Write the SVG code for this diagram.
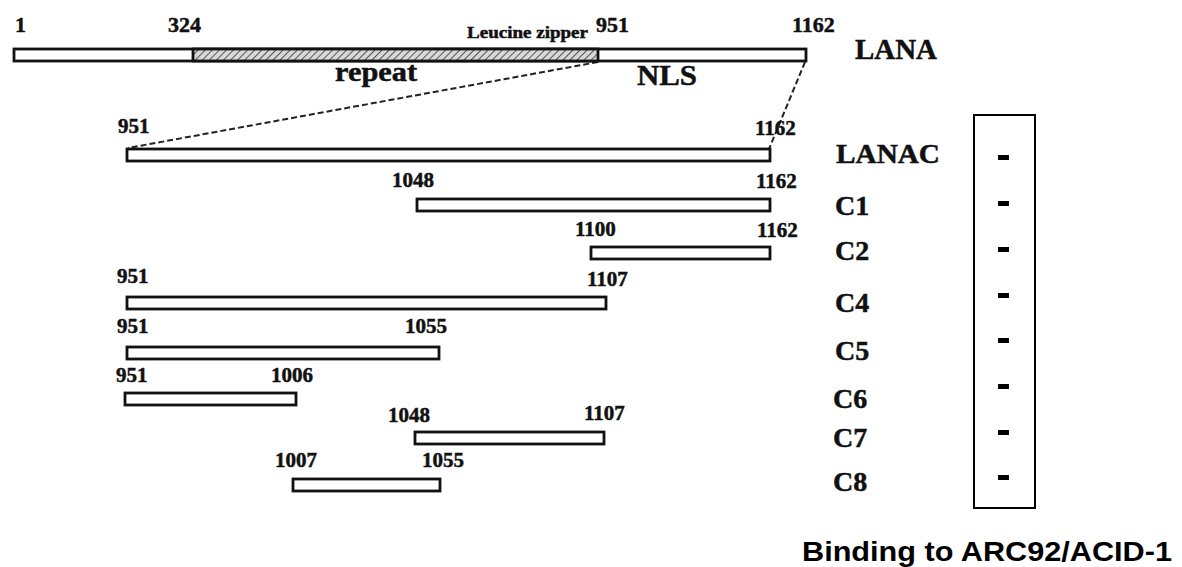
<svg xmlns="http://www.w3.org/2000/svg" width="1182" height="567" viewBox="0 0 1182 567">
<style>
.bar{fill:#fff;stroke:#111;stroke-width:2.8}
.num{font-family:"Liberation Serif",serif;font-weight:bold;font-size:21px;fill:#111;stroke:#111;stroke-width:0.5}
.lbl{font-family:"Liberation Serif",serif;font-weight:bold;font-size:28px;fill:#111;stroke:#111;stroke-width:0.5}
.ser{font-family:"Liberation Serif",serif;font-weight:bold;fill:#111;stroke:#111;stroke-width:0.5}
.conn{fill:none;stroke:#222;stroke-width:2;stroke-dasharray:6 3}
.dash{fill:#000}
</style>
<defs>
<pattern id="hatch" width="5" height="5" patternUnits="userSpaceOnUse" patternTransform="rotate(45)">
<rect width="5" height="5" fill="#d8d8d8"/>
<line x1="0" y1="0" x2="0" y2="5" stroke="#555" stroke-width="2"/>
</pattern>
</defs>
<rect width="1182" height="567" fill="#fff"/>

<g id="connectors">
<line class="conn" x1="598" y1="62" x2="128" y2="148"/>
<line class="conn" x1="805" y1="62" x2="769" y2="149"/>
</g>

<g id="lana">
<rect class="bar" x="14" y="49" width="792" height="12"/>
<rect x="193" y="49" width="405" height="12" fill="url(#hatch)" stroke="#111" stroke-width="2.8"/>
<text class="num" x="15" y="32" style="font-size:22px">1</text>
<text class="num" x="168" y="32" style="font-size:22px">324</text>
<text class="num" x="596" y="32" style="font-size:22px">951</text>
<text class="num" x="792" y="32" style="font-size:22px">1162</text>
<text class="ser" x="467" y="38" font-size="17" textLength="121" lengthAdjust="spacingAndGlyphs">Leucine zipper</text>
<text class="ser" x="335" y="81" font-size="27" textLength="82" lengthAdjust="spacingAndGlyphs">repeat</text>
<text class="ser" x="637" y="85" font-size="30" textLength="60" lengthAdjust="spacingAndGlyphs">NLS</text>
<text class="ser" x="855" y="59" font-size="30" textLength="82" lengthAdjust="spacingAndGlyphs">LANA</text>
</g>

<g id="lanac">
<rect class="bar" x="127" y="149" width="643" height="12"/>
<text class="num" x="118" y="133">951</text>
<text class="num" x="755" y="135">1162</text>
<text class="lbl" x="836" y="163" textLength="104" lengthAdjust="spacingAndGlyphs">LANAC</text>
</g>

<g id="c1">
<rect class="bar" x="417" y="199" width="353" height="12"/>
<text class="num" x="392" y="187">1048</text>
<text class="num" x="756" y="188">1162</text>
<text class="lbl" x="835" y="215">C1</text>
</g>

<g id="c2">
<rect class="bar" x="591" y="247" width="179" height="12"/>
<text class="num" x="575" y="236">1100</text>
<text class="num" x="757" y="237">1162</text>
<text class="lbl" x="835" y="260">C2</text>
</g>

<g id="c4">
<rect class="bar" x="127" y="297" width="479" height="12"/>
<text class="num" x="117" y="283">951</text>
<text class="num" x="587" y="286">1107</text>
<text class="lbl" x="835" y="312">C4</text>
</g>

<g id="c5">
<rect class="bar" x="127" y="347" width="312" height="12"/>
<text class="num" x="117" y="333">951</text>
<text class="num" x="405" y="333">1055</text>
<text class="lbl" x="835" y="360">C5</text>
</g>

<g id="c6">
<rect class="bar" x="125" y="393" width="171" height="12"/>
<text class="num" x="116" y="382">951</text>
<text class="num" x="271" y="382">1006</text>
<text class="lbl" x="833" y="408">C6</text>
</g>

<g id="c7">
<rect class="bar" x="415" y="432" width="189" height="12"/>
<text class="num" x="388" y="422">1048</text>
<text class="num" x="584" y="420">1107</text>
<text class="lbl" x="833" y="447">C7</text>
</g>

<g id="c8">
<rect class="bar" x="293" y="479" width="147" height="12"/>
<text class="num" x="275" y="467">1007</text>
<text class="num" x="422" y="467">1055</text>
<text class="lbl" x="833" y="491">C8</text>
</g>

<g id="binding-box">
<rect x="974" y="115" width="61" height="393" fill="none" stroke="#000" stroke-width="2"/>
<rect class="dash" x="998" y="155" width="11" height="5"/>
<rect class="dash" x="998" y="201" width="11" height="5"/>
<rect class="dash" x="998" y="247" width="11" height="5"/>
<rect class="dash" x="998" y="293" width="11" height="5"/>
<rect class="dash" x="998" y="338" width="11" height="5"/>
<rect class="dash" x="998" y="384" width="11" height="5"/>
<rect class="dash" x="998" y="430" width="11" height="5"/>
<rect class="dash" x="998" y="475" width="11" height="5"/>
</g>

<g id="binding-title">
<text x="802" y="561" font-family="Liberation Sans, Arial, sans-serif" font-weight="bold" font-size="28" textLength="370" lengthAdjust="spacingAndGlyphs" fill="#000">Binding to ARC92/ACID-1</text>
</g>
</svg>
